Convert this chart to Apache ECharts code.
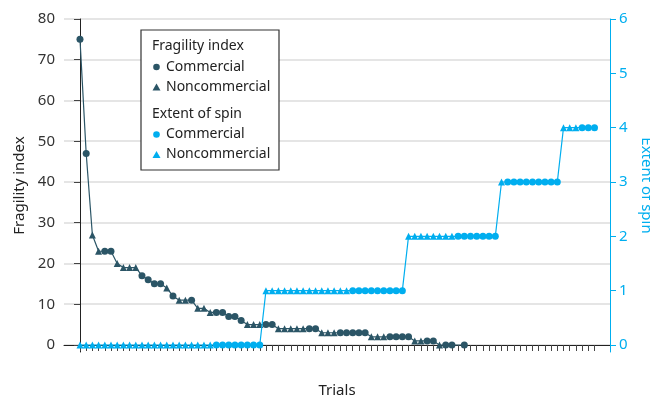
<!DOCTYPE html>
<html>
<head>
<meta charset="utf-8">
<script src="https://cdn.jsdelivr.net/npm/echarts@6/dist/echarts.min.js"></script>
<style>
  html, body { margin: 0; padding: 0; background: #fff; }
  #main { width: 650px; height: 400px; }
</style>
</head>
<body>
<div id="main"></div>
<script>
// trials are ranked separately for each measure, 0..83 on the x axis
const trialCount = 84

// fragility index per ranked trial (null = no point drawn)
const fragilityValues = [
  75, 47, 27, 23, 23, 23, 20, 19, 19, 19,
  17, 16, 15, 15, 14, 12, 11, 11, 11, 9,
  9, 8, 8, 8, 7, 7, 6, 5, 5, 5,
  5, 5, 4, 4, 4, 4, 4, 4, 4, 3,
  3, 3, 3, 3, 3, 3, 3, 2, 2, 2,
  2, 2, 2, 2, 1, 1, 1, 1, 0, 0,
  0, null, 0
]
// C = commercial, N = noncommercial
const fragilityTypes = [
  'C', 'C', 'N', 'N', 'C', 'C', 'N', 'N', 'N', 'N',
  'C', 'C', 'C', 'C', 'N', 'C', 'N', 'N', 'C', 'N',
  'N', 'N', 'C', 'C', 'C', 'C', 'C', 'N', 'N', 'N',
  'C', 'C', 'N', 'N', 'N', 'N', 'N', 'C', 'C', 'N',
  'N', 'N', 'C', 'C', 'C', 'C', 'C', 'N', 'N', 'N',
  'C', 'C', 'C', 'C', 'N', 'N', 'C', 'C', 'N', 'C',
  'C', null, 'C'
]

// extent of spin per ranked trial
const spinValues = [
  0, 0, 0, 0, 0, 0, 0, 0, 0, 0,
  0, 0, 0, 0, 0, 0, 0, 0, 0, 0,
  0, 0, 0, 0, 0, 0, 0, 0, 0, 0,
  1, 1, 1, 1, 1, 1, 1, 1, 1, 1,
  1, 1, 1, 1, 1, 1, 1, 1, 1, 1,
  1, 1, 1, 2, 2, 2, 2, 2, 2, 2,
  2, 2, 2, 2, 2, 2, 2, 2, 3, 3,
  3, 3, 3, 3, 3, 3, 3, 3, 4, 4,
  4, 4, 4, 4
]
const spinTypes = [
  'N', 'N', 'N', 'N', 'N', 'N', 'N', 'N', 'N', 'N',
  'N', 'N', 'N', 'N', 'N', 'N', 'N', 'N', 'N', 'N',
  'N', 'N', 'C', 'C', 'C', 'C', 'C', 'C', 'C', 'C',
  'N', 'N', 'N', 'N', 'N', 'N', 'N', 'N', 'N', 'N',
  'N', 'N', 'N', 'N', 'C', 'C', 'C', 'C', 'C', 'C',
  'C', 'C', 'C', 'N', 'N', 'N', 'N', 'N', 'N', 'N',
  'N', 'C', 'C', 'C', 'C', 'C', 'C', 'C', 'N', 'C',
  'C', 'C', 'C', 'C', 'C', 'C', 'C', 'C', 'N', 'N',
  'N', 'C', 'C', 'C'
]

const leftTicks = [0, 10, 20, 30, 40, 50, 60, 70, 80]
const rightTicks = [0, 1, 2, 3, 4, 5, 6]

const FONT = 'Noto Sans'
const DARK = '#2b5566'
const CYAN = '#00aeef'

function toPoints (values, types) {
  const pts = []
  values.forEach((v, i) => {
    if (v === null) return
    pts.push({
      value: [i, v],
      symbol: types[i] === 'N' ? 'triangle' : 'circle'
    })
  })
  return pts
}

const tickPositions = []
for (let i = 0; i < trialCount; i++) tickPositions.push(i)

const myChart = echarts.init(document.getElementById('main'))

const option = {
  animation: false,
  textStyle: { fontFamily: FONT },
  grid: { left: 64, right: 40, top: 19, bottom: 48, outerBoundsMode: 'none' },
  xAxis: {
    type: 'value',
    min: -2.58,
    max: 85.5,
    name: 'Trials',
    nameLocation: 'middle',
    nameGap: 31,
    nameTextStyle: { color: '#222', fontSize: 15, fontFamily: FONT },
    axisLine: { show: true, lineStyle: { color: '#222', width: 1 } },
    axisTick: {
      show: true,
      customValues: tickPositions,
      length: 6,
      lineStyle: { color: '#444', width: 1 }
    },
    axisLabel: { show: false },
    splitLine: { show: false }
  },
  yAxis: [
    {
      type: 'value',
      // the axis runs a little below zero, as in the source figure
      min: -1.72,
      max: leftTicks[leftTicks.length - 1],
      position: 'left',
      name: 'Fragility index',
      nameLocation: 'middle',
      nameGap: 37,
      nameTextStyle: { color: '#222', fontSize: 15, fontFamily: FONT },
      axisLine: { show: true, lineStyle: { color: '#222', width: 1 } },
      axisTick: { show: true, length: 6, customValues: leftTicks, lineStyle: { color: '#444' } },
      axisLabel: { color: '#333', fontSize: 15, margin: 9, fontFamily: FONT, customValues: leftTicks },
      splitLine: { show: true, lineStyle: { color: '#dcdcdc', width: 1.5 } }
    },
    {
      type: 'value',
      min: -0.129,
      max: rightTicks[rightTicks.length - 1],
      position: 'right',
      name: 'Extent of spin',
      nameLocation: 'middle',
      nameRotate: -90,
      nameGap: 24,
      nameTextStyle: { color: CYAN, fontSize: 15, fontFamily: FONT },
      axisLine: { show: true, lineStyle: { color: CYAN, width: 1 } },
      axisTick: { show: true, length: 6, customValues: rightTicks, lineStyle: { color: CYAN } },
      axisLabel: { color: CYAN, fontSize: 15, margin: 9, fontFamily: FONT, customValues: rightTicks },
      splitLine: { show: false }
    }
  ],
  series: [
    {
      name: 'Fragility index',
      type: 'line',
      yAxisIndex: 0,
      data: toPoints(fragilityValues, fragilityTypes),
      connectNulls: true,
      symbolSize: 7,
      lineStyle: { color: DARK, width: 1.2 },
      itemStyle: { color: DARK },
      z: 3
    },
    {
      name: 'Extent of spin',
      type: 'line',
      yAxisIndex: 1,
      data: toPoints(spinValues, spinTypes),
      symbolSize: 7,
      lineStyle: { color: CYAN, width: 1.2 },
      itemStyle: { color: CYAN },
      z: 4
    }
  ],
  // legend box drawn by hand: two grouped headings
  graphic: [
    {
      type: 'rect',
      shape: { x: 141, y: 30, width: 138, height: 140 },
      style: { fill: '#fff', stroke: '#333', lineWidth: 1.2 },
      z: 10
    },
    { type: 'text', x: 152, y: 46, style: { text: 'Fragility index', fill: '#222', font: '14px "Noto Sans"', verticalAlign: 'middle' }, z: 11 },
    { type: 'circle', shape: { cx: 156.5, cy: 67, r: 3.3 }, style: { fill: DARK }, z: 11 },
    { type: 'text', x: 166, y: 67, style: { text: 'Commercial', fill: '#222', font: '14px "Noto Sans"', verticalAlign: 'middle' }, z: 11 },
    { type: 'polygon', shape: { points: [[156.5, 83.5], [160.5, 90.5], [152.5, 90.5]] }, style: { fill: DARK }, z: 11 },
    { type: 'text', x: 166, y: 87, style: { text: 'Noncommercial', fill: '#222', font: '14px "Noto Sans"', verticalAlign: 'middle' }, z: 11 },
    { type: 'text', x: 152, y: 114, style: { text: 'Extent of spin', fill: '#222', font: '14px "Noto Sans"', verticalAlign: 'middle' }, z: 11 },
    { type: 'circle', shape: { cx: 156.5, cy: 134.5, r: 3.3 }, style: { fill: CYAN }, z: 11 },
    { type: 'text', x: 166, y: 134.5, style: { text: 'Commercial', fill: '#222', font: '14px "Noto Sans"', verticalAlign: 'middle' }, z: 11 },
    { type: 'polygon', shape: { points: [[156.5, 151], [160.5, 158], [152.5, 158]] }, style: { fill: CYAN }, z: 11 },
    { type: 'text', x: 166, y: 154.5, style: { text: 'Noncommercial', fill: '#222', font: '14px "Noto Sans"', verticalAlign: 'middle' }, z: 11 }
  ]
}

myChart.setOption(option)
</script>
</body>
</html>
